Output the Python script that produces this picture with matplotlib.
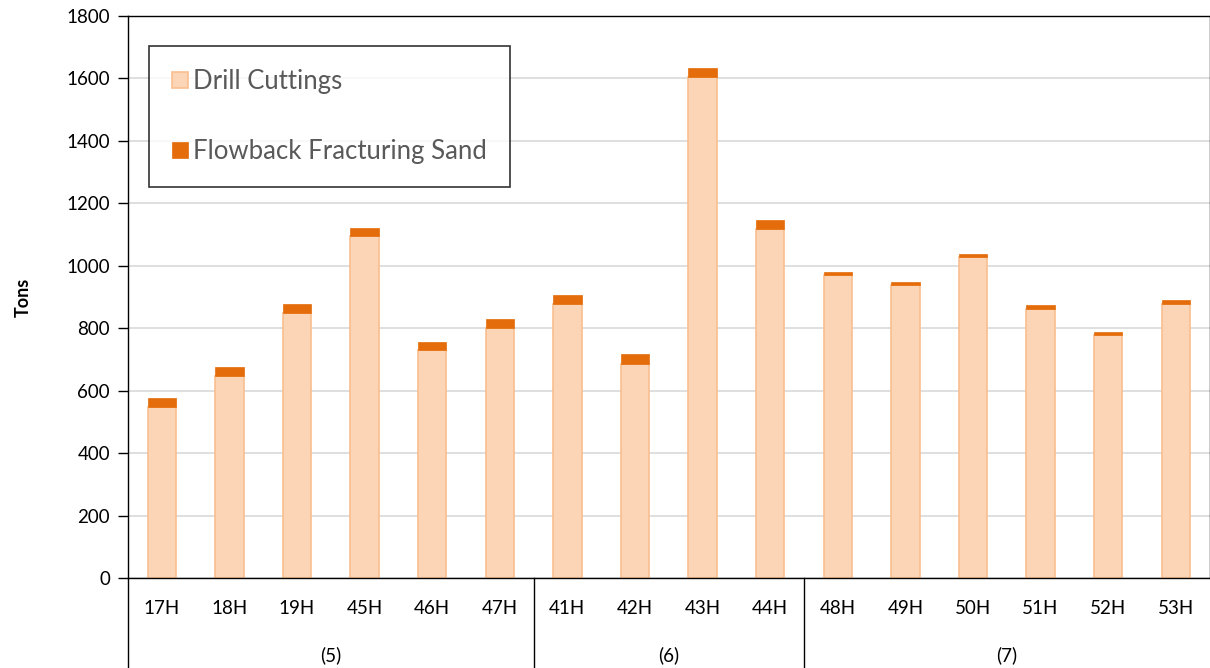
import matplotlib.pyplot as plt
import matplotlib.transforms as mtransforms

wells = ['17H', '18H', '19H', '45H', '46H', '47H',
         '41H', '42H', '43H', '44H',
         '48H', '49H', '50H', '51H', '52H', '53H']
pads = ['(5)', '(6)', '(7)']
pad_sizes = [6, 4, 6]

drill_cuttings = [548, 647, 850, 1094, 729, 800,
                  876, 687, 1604, 1118,
                  971, 939, 1029, 863, 779, 878]
frac_sand = [28, 30, 27, 28, 28, 28,
             30, 29, 30, 30,
             9, 10, 10, 11, 9, 11]

plt.rcParams['font.family'] = ['Lato', 'DejaVu Sans']

fig = plt.figure(figsize=(12.1, 6.68), dpi=100)
ax = fig.add_axes([128 / 1210, 1 - 578 / 668, 1 - 128 / 1210 - 0.5 / 1210, (578 - 16) / 668])

x = list(range(len(wells)))
ax.bar(x, drill_cuttings, width=0.42, color='#FBD5B5', edgecolor='#F9BF8F',
       linewidth=1.2, label='Drill Cuttings', zorder=2)
ax.bar(x, frac_sand, width=0.42, bottom=drill_cuttings, color='#E46C0A',
       edgecolor='#E46C0A', linewidth=0.5, label='Flowback Fracturing Sand', zorder=2)

ax.set_xlim(-0.5, len(wells) - 0.5)
ax.set_ylim(0, 1800)
ax.set_yticks(range(0, 1801, 200))
ax.yaxis.grid(True, color='#D9D9D9', linewidth=1.2, zorder=0)
ax.set_axisbelow(True)
ax.tick_params(axis='y', direction='out', length=7, width=1, labelsize=13.5, pad=6)
ax.set_ylabel('Tons', fontsize=13, fontweight='bold', labelpad=25)

for side in ['left', 'bottom', 'top', 'right']:
    ax.spines[side].set_color('black')
    ax.spines[side].set_linewidth(1)

# two-level category axis: well names, then pad groups
ax.set_xticks([])
trans = mtransforms.blended_transform_factory(ax.transData, ax.transAxes)
for i, w in enumerate(wells):
    ax.text(i, -0.054, w, transform=trans, ha='center', va='center', fontsize=13.5)

start = 0
bounds = [-0.5]
for name, n in zip(pads, pad_sizes):
    mid = start + (n - 1) / 2
    ax.text(mid, -0.137, name, transform=trans, ha='center', va='center', fontsize=13.5)
    start += n
    bounds.append(start - 0.5)
for b in bounds[:-1]:
    ax.plot([b, b], [0, -0.2], transform=trans, color='black', linewidth=1, clip_on=False)

leg = ax.legend(loc='upper left', bbox_to_anchor=(21 / 1082, 1 - 30 / 562),
                fontsize=18.5, frameon=True, fancybox=False, edgecolor='black',
                labelspacing=1.75, handlelength=0.6, handleheight=0.6,
                handletextpad=0.2, borderpad=0.9, borderaxespad=0)
leg.get_frame().set_linewidth(1.2)
for t in leg.get_texts():
    t.set_color('#595959')

fig.savefig('out.png', dpi=100)
